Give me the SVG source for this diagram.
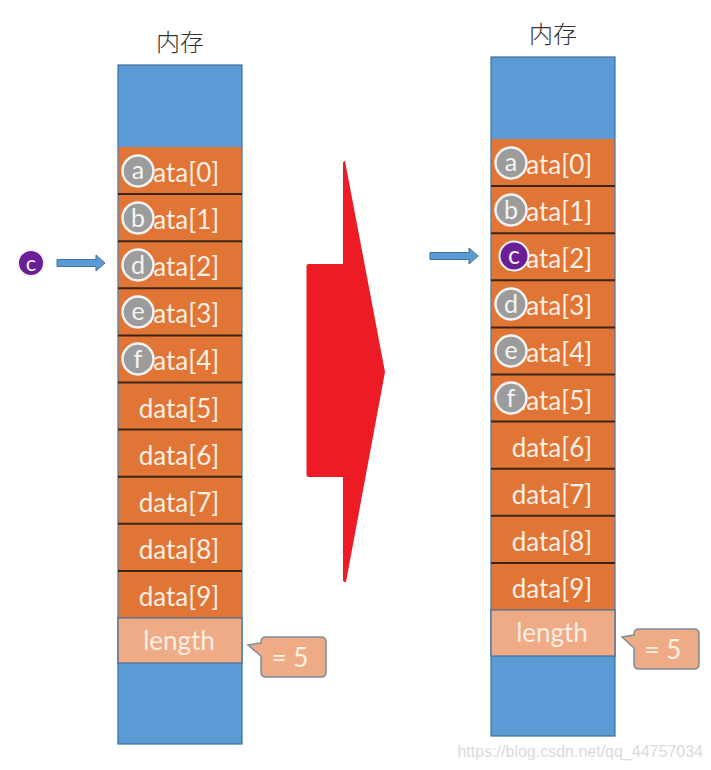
<svg xmlns="http://www.w3.org/2000/svg" width="711" height="770" viewBox="0 0 711 770">
<style>
.title{font-family:"Noto Sans CJK SC","Noto Sans CJK JP",sans-serif;font-size:24px;font-weight:300;fill:#333;text-anchor:middle}
.blue{fill:#5B9BD5;stroke:#41719C;stroke-width:1.2}
.orange{fill:#E07535}
.sep{stroke:#3A2418;stroke-width:2}
.len{fill:#EFAB85;stroke:#41719C;stroke-width:1.2}
.lbl{font-family:Lato,"Open Sans",sans-serif;font-size:26px;fill:#FCEFE4;text-anchor:middle}
.gc{fill:#9C9C9C;stroke:#F4F4F4;stroke-width:2.5}
.pc{fill:#6A1E98;stroke:#F4F4F4;stroke-width:2}
.lt{font-family:Lato,"Open Sans",sans-serif;font-size:25px;fill:#F4F4F4;text-anchor:middle}
.call{fill:#EFAB85;stroke:#7E8C9A;stroke-width:1.5}
.arr{fill:#5B9BD5;stroke:#41719C;stroke-width:1}
</style>

<g id="left-memory">
<text class="title" x="180" y="51">内存</text>
<rect class="blue" x="118" y="65" width="124" height="679"/>
<rect class="orange" x="118.6" y="147" width="122.8" height="471"/>
<g class="sep">
<line x1="118" y1="194.1" x2="242" y2="194.1"/>
<line x1="118" y1="241.2" x2="242" y2="241.2"/>
<line x1="118" y1="288.3" x2="242" y2="288.3"/>
<line x1="118" y1="335.4" x2="242" y2="335.4"/>
<line x1="118" y1="382.5" x2="242" y2="382.5"/>
<line x1="118" y1="429.6" x2="242" y2="429.6"/>
<line x1="118" y1="476.7" x2="242" y2="476.7"/>
<line x1="118" y1="523.8" x2="242" y2="523.8"/>
<line x1="118" y1="570.9" x2="242" y2="570.9"/>
</g>
<rect class="len" x="118" y="618" width="124" height="45"/>
<text class="lbl" x="179" y="182">data[0]</text>
<text class="lbl" x="179" y="229.1">data[1]</text>
<text class="lbl" x="179" y="276.2">data[2]</text>
<text class="lbl" x="179" y="323.3">data[3]</text>
<text class="lbl" x="179" y="370.4">data[4]</text>
<text class="lbl" x="179" y="417.5">data[5]</text>
<text class="lbl" x="179" y="464.6">data[6]</text>
<text class="lbl" x="179" y="511.7">data[7]</text>
<text class="lbl" x="179" y="558.8">data[8]</text>
<text class="lbl" x="179" y="605.9">data[9]</text>
<text class="lbl" x="179" y="650">length</text>
</g>

<g id="left-elements">
<circle class="gc" cx="138" cy="171" r="15.5"/><text class="lt" x="138" y="179">a</text>
<circle class="gc" cx="138" cy="218" r="15.5"/><text class="lt" x="138" y="227">b</text>
<circle class="gc" cx="138" cy="265" r="15.5"/><text class="lt" x="138" y="274">d</text>
<circle class="gc" cx="138" cy="312" r="15.5"/><text class="lt" x="138" y="320">e</text>
<circle class="gc" cx="138" cy="359" r="15.5"/><text class="lt" x="138" y="368">f</text>
</g>

<g id="left-c">
<circle class="pc" cx="31" cy="263" r="13"/><text class="lt" x="31" y="271" style="font-size:22px">c</text>
</g>

<g id="left-callout">
<path class="call" d="M266,637 H321 Q326,637 326,642 V672 Q326,677 321,677 H266 Q261,677 261,672 V656 L248,645 L261,643 V642 Q261,637 266,637 Z"/>
<text class="lbl" x="290" y="667">= 5</text>
</g>

<g id="right-memory">
<text class="title" x="553" y="43">内存</text>
<rect class="blue" x="491" y="57" width="124" height="679"/>
<rect class="orange" x="491.6" y="139" width="122.8" height="471"/>
<g class="sep">
<line x1="491" y1="186.1" x2="615" y2="186.1"/>
<line x1="491" y1="233.2" x2="615" y2="233.2"/>
<line x1="491" y1="280.3" x2="615" y2="280.3"/>
<line x1="491" y1="327.4" x2="615" y2="327.4"/>
<line x1="491" y1="374.5" x2="615" y2="374.5"/>
<line x1="491" y1="421.6" x2="615" y2="421.6"/>
<line x1="491" y1="468.7" x2="615" y2="468.7"/>
<line x1="491" y1="515.8" x2="615" y2="515.8"/>
<line x1="491" y1="562.9" x2="615" y2="562.9"/>
</g>
<rect class="len" x="491" y="610" width="124" height="46"/>
<text class="lbl" x="552" y="174">data[0]</text>
<text class="lbl" x="552" y="221.1">data[1]</text>
<text class="lbl" x="552" y="268.2">data[2]</text>
<text class="lbl" x="552" y="315.3">data[3]</text>
<text class="lbl" x="552" y="362.4">data[4]</text>
<text class="lbl" x="552" y="409.5">data[5]</text>
<text class="lbl" x="552" y="456.6">data[6]</text>
<text class="lbl" x="552" y="503.7">data[7]</text>
<text class="lbl" x="552" y="550.8">data[8]</text>
<text class="lbl" x="552" y="597.9">data[9]</text>
<text class="lbl" x="552" y="642">length</text>
</g>

<g id="right-elements">
<circle class="gc" cx="511" cy="163" r="15.5"/><text class="lt" x="511" y="171">a</text>
<circle class="gc" cx="511" cy="210" r="15.5"/><text class="lt" x="511" y="219">b</text>
<circle class="pc" cx="514" cy="256" r="14.5"/><text class="lt" x="514" y="264">c</text>
<circle class="gc" cx="511" cy="304" r="15.5"/><text class="lt" x="511" y="313">d</text>
<circle class="gc" cx="511" cy="351" r="15.5"/><text class="lt" x="511" y="359">e</text>
<circle class="gc" cx="511" cy="398" r="15.5"/><text class="lt" x="511" y="407">f</text>
</g>

<g id="right-callout">
<path class="call" d="M639,629 H694 Q699,629 699,634 V664 Q699,669 694,669 H639 Q634,669 634,664 V648 L622,637 L634,635 V634 Q634,629 639,629 Z"/>
<text class="lbl" x="663" y="659">= 5</text>
</g>

<g id="connectors">
<path class="arr" d="M57,259.5 H96 V255 L105,263 L96,271 V266.5 H57 Z"/>
<path class="arr" d="M430,252.5 H469 V248 L478,256 L469,264 V259.5 H430 Z"/>
<path id="big-arrow" d="M306.5,266 Q306.5,264 308.5,264 H343 V163 Q343,161 345,161 L385,372 L346,582 Q343,582 343,580 V477 H308.5 Q306.5,477 306.5,475 Z" fill="#ED1C24"/>
</g>

<text x="703" y="757" style="font-family:'Liberation Sans',Arial,sans-serif;font-size:16px;fill:#DADADA;text-anchor:end">https://blog.csdn.net/qq_44757034</text>
</svg>
